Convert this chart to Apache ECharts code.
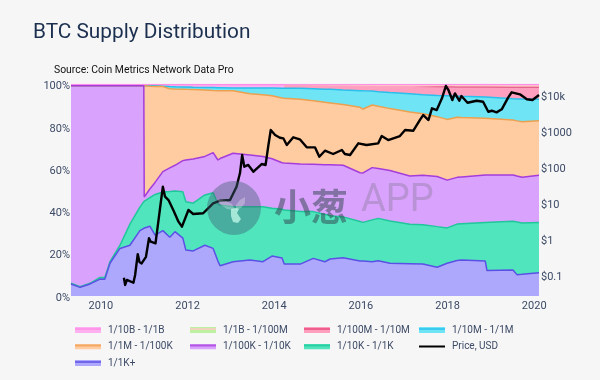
<!DOCTYPE html>
<html><head><meta charset="utf-8">
<script src="https://cdn.jsdelivr.net/npm/echarts@6/dist/echarts.min.js"></script>
<style>html,body{margin:0;padding:0;background:#f6f6f6}#c{width:600px;height:380px}</style>
</head><body><div id="c"></div>
<script>
const yearTicks = [2010,2012,2014,2016,2018,2020];
const priceTicks = [0.1,1,10,100,1000,10000];
const priceTickLabels = ['$0.1','$1','$10','$100','$1000','$10k'];

const years = [2009.31,2009.52,2009.75,2009.98,2010.09,2010.21,2010.44,2010.67,2010.90,2010.99,2011.00,2011.13,2011.25,2011.43,2011.59,2011.71,2011.89,2011.96,2012.13,2012.40,2012.59,2012.70,2012.75,2013.05,2013.44,2013.74,2013.95,2014.18,2014.23,2014.60,2014.90,2015.17,2015.29,2015.59,2015.98,2016.05,2016.26,2016.40,2016.67,2017.13,2017.43,2017.76,2017.99,2018.22,2018.33,2018.87,2018.91,2019.51,2019.60,2019.72,2020.11];
// cumulative share of supply at the top of each band, percent
const top1K = [5.7,4.1,5.7,8,7.9,15.5,22.5,24,30.9,32,32,33,28.8,30.9,27.8,30.4,27.4,21.7,21.3,24,22.5,16.5,14.3,16.2,17,16.2,18.9,18,15.1,15.1,17.8,16.2,17.5,18.1,16.5,16.5,16.2,16.7,15.5,15.3,15.1,13.6,15.5,16.8,17,16.5,12,12.3,10.1,10.3,11];
const top10K = [6,4.4,6,8.8,8.8,16.2,24,34,42,44.6,44.6,46.5,48,49.2,49.4,49.6,49.3,44.6,43.9,47.8,48.8,43.5,43,42.2,42.2,42.2,41.5,41,40.7,40,39.9,38.5,38,37.4,35.2,34.8,36,36.7,35.5,33.9,33.7,32.8,32.2,34,34.2,34.8,35,35.3,35,34.5,34.8];
const top100K = [99.4,99.4,99.4,99.4,99.4,99.4,99.4,99.4,99.4,99.4,46.8,50.6,53.7,58.8,60.6,61.8,64,64.3,64.8,66,67.8,64.3,65,67.5,66.7,66,64.9,63,62.9,62.4,62.3,62,62,61.8,58.3,58.2,60.7,60.3,59.3,56.7,57.1,56.5,54.8,56.1,56.3,57.2,57.2,57.2,56.7,56.1,57.1];
const top1M = [99.4,99.4,99.4,99.4,99.4,99.4,99.4,99.4,99.4,99.4,99.3,99.2,99.1,99,98,97.9,97.8,97.7,97.6,97.4,97.2,97.1,97.1,97,95.6,95.2,94.7,93.6,93.5,93,92.3,91.6,91.3,90.5,89.2,88.4,90.3,89.7,88.6,87,86.2,84.8,83.5,84.5,84.4,84,84,83.2,82.8,82.4,82.9];
const top10M = [99.4,99.4,99.4,99.4,99.4,99.4,99.4,99.4,99.4,99.4,99.4,99.4,99.4,99.2,99,98.9,98.8,98.8,98.7,98.6,98.6,98.5,98.5,98.4,98.3,98.3,98.3,98.2,98.2,98.2,98,97.8,97.7,97.4,97.1,97,96.9,96.6,96.2,95.6,95.1,94.8,94.7,94.5,94.4,94.1,94.1,93.3,93.2,93.1,93];
const top100M = [null,null,null,null,null,null,null,null,null,null,null,null,null,null,null,null,null,null,null,null,null,null,null,null,null,null,null,null,99.5,99.5,99.4,99.4,99.3,99.3,99.2,99.2,99.1,99.1,99,99,98.9,98.9,98.9,98.8,98.8,98.8,98.8,98.7,98.7,98.7,98.7];
const top1B = [null,null,null,null,null,null,null,null,null,null,null,null,null,null,null,null,null,null,null,null,null,null,null,null,null,null,null,null,99.6,99.6,99.6,99.6,99.6,99.6,99.6,99.6,99.5,99.5,99.5,99.5,99.5,99.5,99.5,99.5,99.5,99.4,99.4,99.4,99.4,99.4,99.4];
const top10B = years.map(() => 100);

const priceYears = [2010.53,2010.56,2010.60,2010.75,2010.79,2010.85,2010.89,2010.94,2011.04,2011.11,2011.15,2011.26,2011.32,2011.36,2011.43,2011.48,2011.56,2011.67,2011.79,2011.87,2012.02,2012.13,2012.36,2012.59,2012.75,2012.98,2013.13,2013.21,2013.26,2013.31,2013.40,2013.52,2013.71,2013.80,2013.86,2013.92,2014.02,2014.13,2014.21,2014.29,2014.44,2014.59,2014.75,2014.94,2015.04,2015.17,2015.36,2015.56,2015.63,2015.75,2015.94,2016.13,2016.40,2016.48,2016.63,2016.90,2017.02,2017.21,2017.37,2017.44,2017.56,2017.64,2017.75,2017.87,2017.96,2018.02,2018.11,2018.17,2018.27,2018.32,2018.46,2018.67,2018.82,2018.94,2019.02,2019.13,2019.25,2019.40,2019.48,2019.67,2019.83,2019.96,2020.11];
const priceUsd = [0.084,0.053,0.073,0.061,0.10,0.38,0.23,0.21,0.32,1.05,0.84,0.76,2.73,6.4,28.4,15,12.1,6.4,3.03,2.2,6.4,4.95,5.2,9.8,11.6,12.1,28.4,68,215,102,114,74,121,114,366,1066,774,652,627,408,668,588,352,352,193,284,230,297,230,215,455,408,455,726,562,726,1066,1018,2113,2783,2021,4275,3830,8100,17800,13800,7260,11100,6950,9380,6110,6950,6520,3435,3660,3300,4010,8630,11900,10450,7600,7260,10000];

const bands = [
 {name:'1/10B - 1/1B', edge:top10B, fill:'#ffb0f0', area:'#ffb0f0', line:'#ff8de8', width:1.5},
 {name:'1/1B - 1/100M', edge:top1B, fill:'#bdf0a0', area:'#ffc8c8', line:'#ffc8c8', width:1},
 {name:'1/100M - 1/10M', edge:top100M, fill:'#ff9fc0', area:'#ff9fc0', line:'#e8487c', width:1,
   lineColor:{type:'linear',x:0,y:0,x2:1,y2:0,colorStops:[{offset:0,color:'#ff9fc0'},{offset:0.5,color:'#ff9fc0'},{offset:0.62,color:'#dc4a78'},{offset:1,color:'#dc4a78'}]}},
 {name:'1/10M - 1/1M', edge:top10M, fill:'#6fe4f5', area:'#6fe4f5', line:'#28c0ec', width:1.5},
 {name:'1/1M - 1/100K', edge:top1M, fill:'#ffcba0', area:'#ffcba0', line:'#eca050', width:1.5},
 {name:'1/100K - 1/10K', edge:top100K, fill:'#d9a2fc', area:'#d9a2fc', line:'#a53cdc', width:1.5},
 {name:'1/10K - 1/1K', edge:top10K, fill:'#50e5bd', area:'#50e5bd', line:'#1fc79a', width:1.5},
 {name:'1/1K+', edge:top1K, fill:'#aea8fc', area:'#aea8fc', line:'#5b50e6', width:1.5}
];
function swatch(b){
  const svg = `<svg xmlns="http://www.w3.org/2000/svg" width="26" height="6"><rect width="26" height="6" fill="${b.fill}"/><rect y="1" width="26" height="2" fill="${b.line}" opacity="0.75"/></svg>`;
  return 'image://data:image/svg+xml;charset=utf-8,' + encodeURIComponent(svg);
}
const priceSwatch = 'image://data:image/svg+xml;charset=utf-8,' + encodeURIComponent('<svg xmlns="http://www.w3.org/2000/svg" width="26" height="6"><rect y="2" width="26" height="2" fill="#000"/></svg>');
const item = n => { const b = bands.find(x=>x.name===n); return {name:n, icon: b ? swatch(b) : priceSwatch}; };
const legendCols = [
 {left:75, names:['1/10B - 1/1B','1/1M - 1/100K','1/1K+']},
 {left:190, names:['1/1B - 1/100M','1/100K - 1/10K']},
 {left:304, names:['1/100M - 1/10M','1/10K - 1/1K']},
 {left:419, names:['1/10M - 1/1M','Price, USD']}
];
const font = 'Roboto';
const labelRich = {t:{color:'#3c4a66',fontSize:11,fontFamily:font,padding:[4,0,0,0]}};
const chart = echarts.init(document.getElementById('c'), null, {renderer:'canvas'});
chart.setOption({
  animation:false,
  backgroundColor:'#f6f6f6',
  textStyle:{fontFamily:font},
  title:[
    {text:'BTC Supply Distribution', left:33, top:22, padding:0, textStyle:{fontFamily:font,fontSize:20.8,fontWeight:400,color:'#1c2f4f'}},
    {text:'Source: Coin Metrics Network Data Pro', left:54, top:65, padding:0, textStyle:{fontFamily:font,fontSize:10.4,fontWeight:400,color:'#111'}}
  ],
  legend: legendCols.map(c=>({
    left:c.left, top:325, orient:'vertical', padding:0, itemWidth:26, itemHeight:6, itemGap:6.5,
    data:c.names.map(item), textStyle:{fontFamily:font,fontSize:10,color:'#3c4a66',padding:[0,0,0,2],lineHeight:10},
    selectedMode:false
  })),
  grid:{left:71, top:84.5, width:468, height:211.5, containLabel:false},
  xAxis:{type:'value', min:2009.31, max:2020.11, splitLine:{show:false},
    axisLine:{show:false}, axisTick:{show:false},
    axisLabel:{customValues:yearTicks, formatter:v=>String(v), color:'#3c4a66', fontSize:11, margin:5, fontFamily:font}},
  yAxis:[
    {type:'value', min:0, max:100, interval:20, splitLine:{show:false}, axisLine:{show:false}, axisTick:{show:false},
     axisLabel:{formatter:v=>'{t|'+v+'%}', rich:labelRich, margin:1}},
    {type:'log', logBase:10, min:0.0261, max:19600, position:'right', splitLine:{show:false}, axisLine:{show:false}, axisTick:{show:false},
     axisLabel:{customValues:priceTicks, formatter:v=>{const i=priceTicks.findIndex(t=>Math.abs(Math.log10(t)-Math.log10(v))<0.01);return i>=0?'{t|'+priceTickLabels[i]+'}':'';}, rich:labelRich, margin:2}}
  ],
  series:[
    ...bands.map(b=>({name:b.name,type:'line',yAxisIndex:0,showSymbol:false,symbol:'none',
      data:years.map((y,i)=>[y,b.edge[i]]),
      lineStyle:{color:b.lineColor||b.line,width:b.width},itemStyle:{color:b.line},areaStyle:{color:b.area,opacity:1}})),
    {name:'Price, USD',type:'line',yAxisIndex:1,showSymbol:false,symbol:'none',
      data:priceYears.map((y,i)=>[y,priceUsd[i]]),
      lineStyle:{color:'#000',width:2.4,join:'round'},itemStyle:{color:'#000'},z:5}
  ],
  graphic:[
    {type:'circle',z:100,shape:{cx:234,cy:208,r:27},style:{fill:'rgba(62,95,115,0.42)'}},
    {type:'polygon',z:101,shape:{points:[[218,200],[226,201],[232,204],[235,210],[227,209],[221,205]]},style:{fill:'rgba(255,255,255,0.28)'}},
    {type:'polygon',z:101,shape:{points:[[245,197],[245,203],[241,208],[236,210],[236,205],[240,200]]},style:{fill:'rgba(255,255,255,0.28)'}},
    {type:'polygon',z:101,shape:{points:[[231,209],[236,208],[239,209],[237,213],[241,219],[238,223],[233,222],[231,216]]},style:{fill:'rgba(205,255,240,0.7)'}},
    {type:'text',z:100,left:274,top:188,style:{text:'小葱',fontFamily:'Noto Sans CJK SC',fontSize:37,fontWeight:700,fill:'rgba(50,70,80,0.52)'}},
    {type:'text',z:100,left:361,top:182,style:{text:'APP',fontFamily:font,fontSize:38,fill:'rgba(110,110,120,0.3)'}}
  ]
});
</script></body></html>
